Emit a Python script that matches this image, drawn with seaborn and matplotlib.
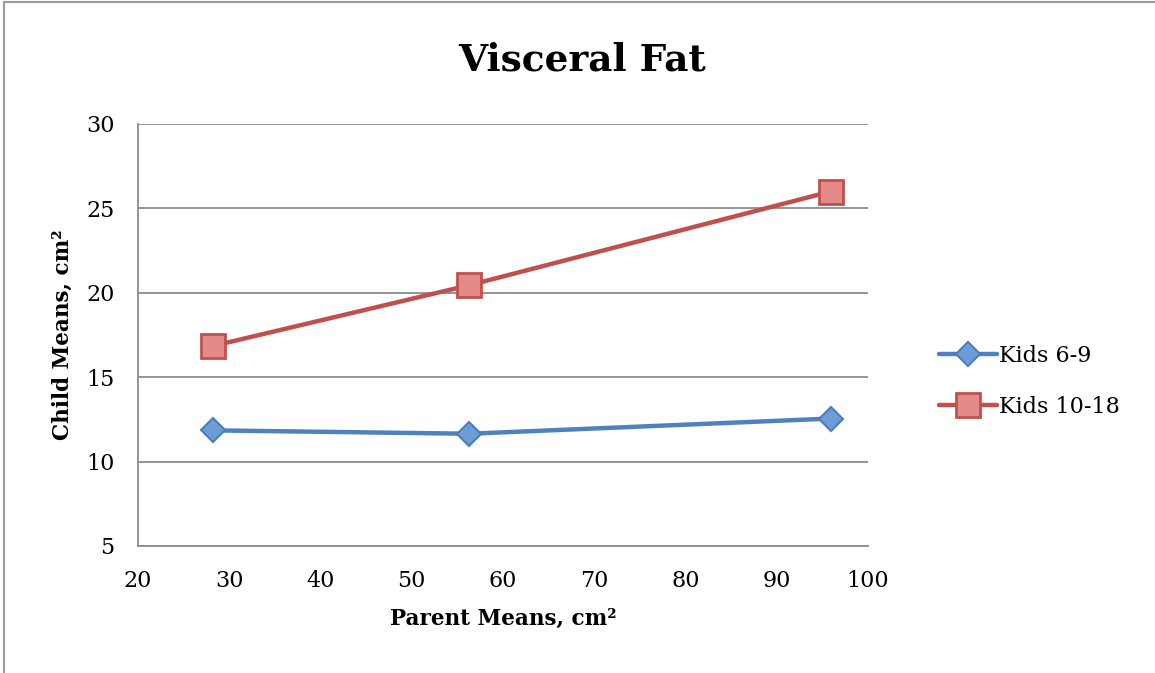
import matplotlib
matplotlib.use("Agg")
import matplotlib.pyplot as plt
import seaborn as sns
import pandas as pd
from matplotlib.patches import Rectangle

# Data
parent_means = [28.2, 56.3, 95.9]
kids_6_9 = [11.85, 11.65, 12.55]
kids_10_18 = [16.85, 20.45, 26.0]
series_names = ["Kids 6-9", "Kids 10-18"]
x_ticks = [20, 30, 40, 50, 60, 70, 80, 90, 100]
y_ticks = [5, 10, 15, 20, 25, 30]

sns.set_theme(style="white")
plt.rcParams['font.family'] = ['DejaVu Serif', 'Liberation Serif']
plt.rcParams['text.color'] = 'black'
plt.rcParams['axes.labelcolor'] = 'black'

fig = plt.figure(figsize=(11.55, 6.73), dpi=100)
ax = fig.add_axes([138/1155, 1-546/673, (868-138)/1155, (546-124)/673])

# Border of chart area
fig.patches.append(Rectangle((4/1155, -0.2), 1.2, 1.2 - 2/673,
                             transform=fig.transFigure, fill=False,
                             edgecolor='#9a9a9a', linewidth=1.5))

df1 = pd.DataFrame({"x": parent_means, "y": kids_6_9})
df2 = pd.DataFrame({"x": parent_means, "y": kids_10_18})

sns.lineplot(data=df1, x="x", y="y", ax=ax, color="#4F81BD", linewidth=3.2,
             marker="D", markersize=12, markerfacecolor="#6C9DD6",
             markeredgecolor="#4A7EBB", markeredgewidth=1.5,
             label=series_names[0], zorder=3)
sns.lineplot(data=df2, x="x", y="y", ax=ax, color="#C0504D", linewidth=3.2,
             marker="s", markersize=17, markerfacecolor="#E48A88",
             markeredgecolor="#C0504D", markeredgewidth=2,
             label=series_names[1], zorder=3)

ax.set_xlim(20, 100)
ax.set_ylim(5, 30)
ax.set_xticks(x_ticks)
ax.set_yticks(y_ticks)
ax.tick_params(axis='x', labelsize=16, length=0, pad=17, colors='black')
ax.tick_params(axis='y', labelsize=16, length=0, pad=17, colors='black')
ax.yaxis.grid(True, color='#8c8c8c', linewidth=1.3)
ax.xaxis.grid(False)
for s in ['top', 'right']:
    ax.spines[s].set_visible(False)
for s in ['left', 'bottom']:
    ax.spines[s].set_color('#8c8c8c')
    ax.spines[s].set_linewidth(1.3)

ax.set_xlabel("Parent Means, cm²", fontsize=15.5, fontweight='bold', labelpad=12)
ax.set_ylabel("Child Means, cm²", fontsize=15.5, fontweight='bold', labelpad=9)

fig.text(582/1155, 1-60/673, "Visceral Fat", ha='center', va='center',
         fontsize=27, fontweight='bold')

leg = ax.legend(loc='center left', bbox_to_anchor=(1.07, 0.39), frameon=False,
                fontsize=16, handlelength=2.6, handletextpad=0.1, labelspacing=1.3)

fig.savefig("out.png", dpi=100)
